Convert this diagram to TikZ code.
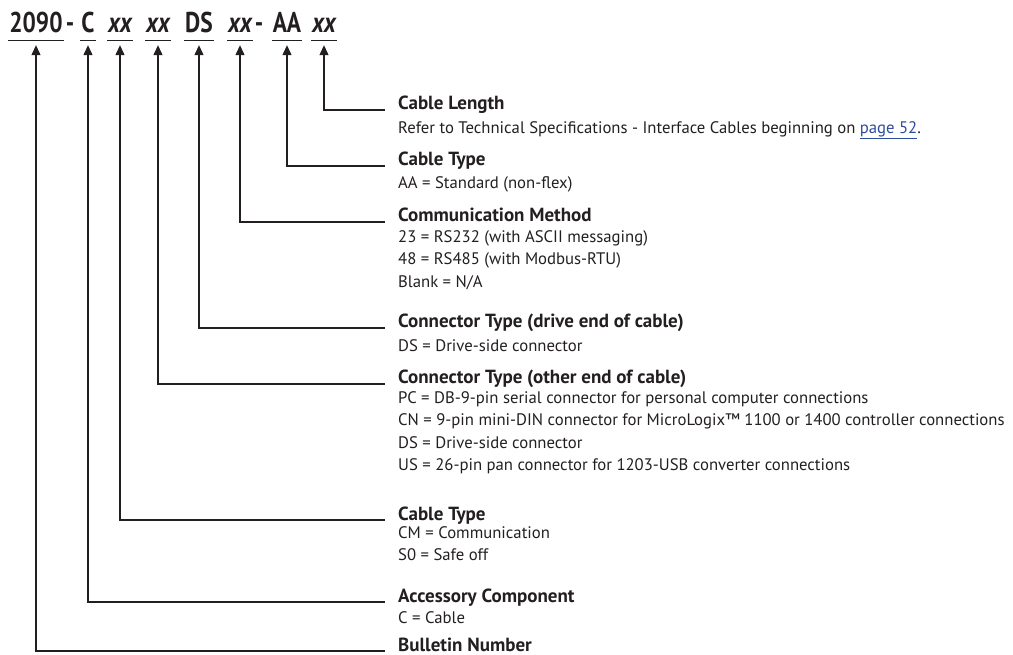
\documentclass[tikz,border=0pt]{standalone}
\usepackage{fontspec}
\setmainfont{PT Sans}
\newfontfamily\codefont{PT Sans}[FakeStretch=0.82]
\usetikzlibrary{arrows.meta}
\definecolor{ink}{HTML}{231F20}
\definecolor{linkblue}{HTML}{2E4C9E}
\tikzset{
    catalog/.style={
        x=1pt, y=-1pt,
        every node/.style={text=ink},
        code/.style={font=\codefont\fontsize{28.6}{30}\selectfont\bfseries, inner xsep=1pt, inner ysep=7pt, text depth=0pt, anchor=base},
        xcode/.style={code, font=\codefont\fontsize{28.6}{30}\selectfont\bfseries\itshape},
        heading/.style={font=\fontsize{19}{22}\selectfont\bfseries, inner xsep=13pt, inner ysep=0pt, anchor=base west},
        desc/.style={font=\fontsize{16.7}{22.5}\selectfont, inner sep=0pt, align=left, anchor=north west, yshift=15.75pt, execute at begin node=\strut},
        rule/.style={draw=ink, line width=1.2pt},
        pointer/.style={rule, -{Triangle[length=10pt, width=9pt]}, shorten >=5pt},
    },
}

\begin{document}
\begin{tikzpicture}[catalog]
    \useasboundingbox (0,0) rectangle (1013,655);

    % catalog number
    \node[code]  (bul)   at (36,33)  {2090};
    \node[code]  (dashA) at (70,33)  {-};
    \node[code]  (acc)   at (88,33)  {C};
    \node[xcode] (ctyp)  at (120,33) {xx};
    \node[xcode] (oend)  at (158,33) {xx};
    \node[code]  (dend)  at (199,33) {DS};
    \node[xcode] (comm)  at (240,33) {xx};
    \node[code]  (dashB) at (259,33) {-};
    \node[code]  (cab)   at (287,33) {AA};
    \node[xcode] (len)   at (324,33) {xx};

    \foreach \c in {bul,acc,ctyp,oend,dend,comm,cab,len}
        \draw[rule] (\c.south west) -- (\c.south east);

    % explanations
    \node[heading] (tlen)  at (385,110) {Cable Length};
    \node[desc]    (dlen)  at (398,133) {Refer to Technical Specifications - Interface Cables beginning on \textcolor{linkblue}{\underline{page 52}}.};
    \node[heading] (tcab)  at (385,166) {Cable Type};
    \node[desc]    (dcab)  at (398,188) {AA = Standard (non-flex)};
    \node[heading] (tcomm) at (385,222) {Communication Method};
    \node[desc]    (dcomm) at (398,246) {23 = RS232 (with ASCII messaging)\\48 = RS485 (with Modbus-RTU)\\Blank = N/A};
    \node[heading] (tdend) at (385,328) {Connector Type (drive end of cable)};
    \node[desc]    (ddend) at (398,351) {DS = Drive-side connector};
    \node[heading] (toend) at (385,384) {Connector Type (other end of cable)};
    \node[desc]    (doend) at (398,407) {PC = DB-9-pin serial connector for personal computer connections\\CN = 9-pin mini-DIN connector for MicroLogix™ 1100 or 1400 controller connections\\DS = Drive-side connector\\US = 26-pin pan connector for 1203-USB converter connections};
    \node[heading] (tctyp) at (385,520) {Cable Type};
    \node[desc]    (dctyp) at (398,542) {CM = Communication\\S0 = Safe off};
    \node[heading] (tacc)  at (385,602) {Accessory Component};
    \node[desc]    (dacc)  at (398,623) {C = Cable};
    \node[heading] (tbul)  at (385,651) {Bulletin Number};

    % leaders
    \draw[pointer] (tlen.base west)  -| (len.south);
    \draw[pointer] (tcab.base west)  -| (cab.south);
    \draw[pointer] (tcomm.base west) -| (comm.south);
    \draw[pointer] (tdend.base west) -| (dend.south);
    \draw[pointer] (toend.base west) -| (oend.south);
    \draw[pointer] (tctyp.base west) -| (ctyp.south);
    \draw[pointer] (tacc.base west)  -| (acc.south);
    \draw[pointer] (tbul.base west)  -| (bul.south);
\end{tikzpicture}
\end{document}
